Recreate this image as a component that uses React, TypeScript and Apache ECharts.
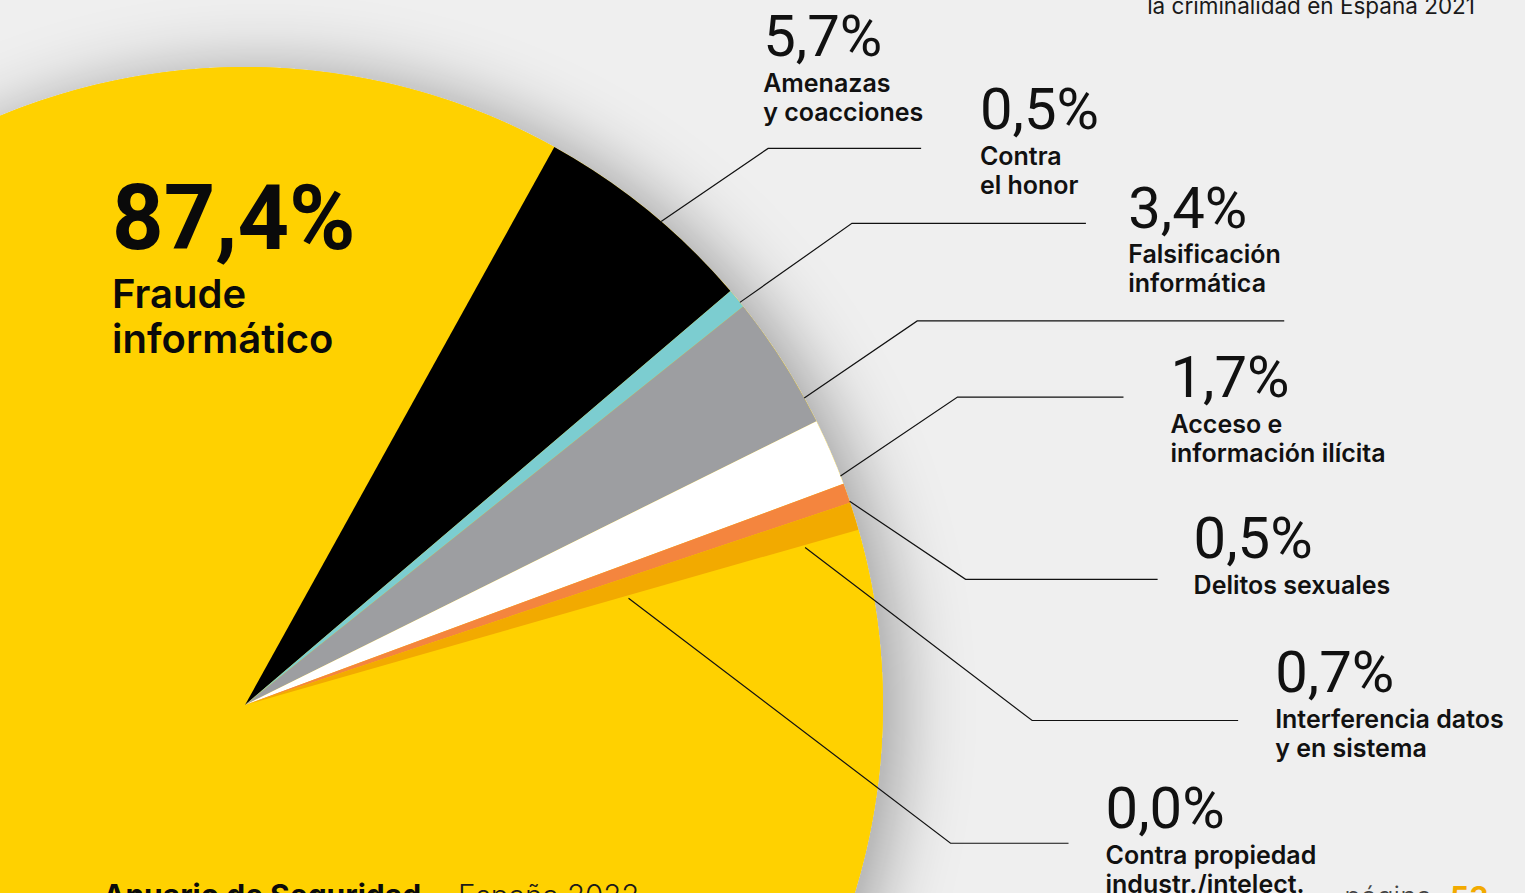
import React, { useEffect, useRef } from "react";
import * as echarts from "echarts";

// ---------- data ----------
const categories = [
  "Fraude\ninformático",
  "Amenazas\ny coacciones",
  "Contra\nel honor",
  "Falsificación\ninformática",
  "Acceso e\ninformación ilícita",
  "Delitos sexuales",
  "Interferencia datos\ny en sistema",
  "Contra propiedad\nindustr./intelect.",
];
const values = [87.4, 5.7, 0.5, 3.4, 1.7, 0.5, 0.7, 0.0];

// ---------- styles / layout ----------
const colors = ["#ffd100", "#000000", "#7ccdd0", "#9d9ea1", "#ffffff", "#f4853e", "#f2aa00", "#f2aa00"];
const FONT = "Inter, 'Noto Sans', sans-serif";
const NUM_FONT = "Roboto, Inter, sans-serif";
const CX = 245;
const CY = 705;
const R = 638;
const TOTAL = values.reduce((a, b) => a + b, 0);
// boundary between "Fraude" and "Amenazas" sits at 61° (counter-clockwise from 3 o'clock)
const START_ANGLE = 61 + (values[0] / TOTAL) * 360;

// leader line geometry relative to slice edge point (shift in degrees, elbow offset, horizontal length, text offset)
const LEADERS = [
  { shift: -1.44, frac: 1.0, elbow: [107, -73], len: 153, text: [-158, -133] },
  { shift: -0.43, frac: 1.0, elbow: [112, -79], len: 234, text: [-106, -135] },
  { shift: -3.76, frac: 1.0, elbow: [113, -77], len: 367, text: [-156, -134] },
  { shift: -2.31, frac: 1.0, elbow: [117, -79], len: 166, text: [47, -41] },
  { shift: -0.76, frac: 1.0, elbow: [116, 78], len: 192, text: [36, -62] },
  { shift: -1.51, frac: 0.912, elbow: [227, 173], len: 206, text: [37, -69] },
  { shift: -0.4, frac: 0.624, elbow: [322, 245], len: 118, text: [37, -56] },
];
const PCT_CAP_OFFSET = 11;
const BIG_LABEL_POS = [112, 165];

const fmt = (v: number) => v.toFixed(1).replace(".", ",") + "%";

function midAngleFallback(i: number): number {
  let acc = 0;
  for (let k = 0; k < i; k++) acc += values[k];
  const mid = acc + values[i] / 2;
  const deg = START_ANGLE - (mid / TOTAL) * 360;
  return (-deg * Math.PI) / 180; // screen angle
}

export default function App() {
  const ref = useRef<HTMLDivElement>(null);
  useEffect(() => {
    if (!ref.current) return;
    const chart = echarts.init(ref.current, undefined, { renderer: "svg" });
    const sliceData = categories.map((name, i) => ({
      name,
      value: values[i],
      itemStyle: { color: colors[i] },
    }));
    const labelData = categories.map((name, i) => ({
      name,
      value: values[i],
      itemStyle: { color: "rgba(0,0,0,0)" },
      labelLine: { show: i !== 0 },
    }));
    const pieBase = {
      type: "pie",
      silent: true,
      center: [CX, CY],
      radius: R,
      startAngle: START_ANGLE,
      clockwise: true,
      avoidLabelOverlap: false,
      emphasis: { disabled: true },
    };
    const option: any = {
      animation: false,
      backgroundColor: "#efefef",
      series: [
        {
          type: "pie",
          silent: true,
          z: 1,
          center: [CX, CY],
          radius: R,
          data: [{ value: 1, name: "" }],
          itemStyle: {
            color: "#ffd100",
            borderWidth: 0,
            shadowBlur: 70,
            shadowColor: "rgba(0,0,0,0.34)",
            shadowOffsetX: 16,
            shadowOffsetY: 4,
          },
          label: { show: false },
          labelLine: { show: false },
          emphasis: { disabled: true },
        },
        {
          ...pieBase,
          z: 2,
          itemStyle: { borderWidth: 0 },
          data: sliceData,
          label: { show: false },
          labelLine: { show: false },
        },
        {
          ...pieBase,
          z: 3,
          itemStyle: { borderWidth: 0, color: "rgba(0,0,0,0)" },
          data: labelData,
          label: {
            show: true,
            position: "outside",
            color: "#111111",
            fontFamily: FONT,
            formatter: (p: any) => {
              const lines = String(p.name).split("\n");
              if (p.dataIndex === 0) {
                return `{big|${fmt(p.value)}}\n` + lines.map((l) => `{bigName|${l}}`).join("\n");
              }
              return `{pct|${fmt(p.value)}}\n` + lines.map((l) => `{name|${l}}`).join("\n");
            },
            rich: {
              pct: { fontFamily: NUM_FONT, fontSize: 58, fontWeight: 400, lineHeight: 64, color: "#111111" },
              name: { fontFamily: FONT, fontSize: 25, fontWeight: 600, lineHeight: 29, color: "#111111" },
              big: { fontFamily: NUM_FONT, fontSize: 90, fontWeight: 700, lineHeight: 106, color: "#0a0a0a" },
              bigName: { fontFamily: FONT, fontSize: 40, fontWeight: 600, lineHeight: 45, color: "#0a0a0a" },
            },
          },
          labelLine: { show: true, lineStyle: { color: "#111111", width: 1.2 } },
          labelLayout: (params: any) => {
            const i = params.dataIndex;
            if (i === 0) {
              return { x: BIG_LABEL_POS[0], y: BIG_LABEL_POS[1], align: "left", verticalAlign: "top" };
            }
            const L = LEADERS[i - 1];
            const p0 = params.labelLinePoints && params.labelLinePoints[0];
            let a = p0 ? Math.atan2(p0[1] - CY, p0[0] - CX) : midAngleFallback(i);
            a -= (L.shift * Math.PI) / 180;
            const s = [CX + R * L.frac * Math.cos(a), CY + R * L.frac * Math.sin(a)];
            const e = [s[0] + L.elbow[0], s[1] + L.elbow[1]];
            const t = [e[0] + L.len, e[1]];
            return {
              x: t[0] + L.text[0],
              y: t[1] + L.text[1] - PCT_CAP_OFFSET,
              align: "left",
              verticalAlign: "top",
              labelLinePoints: [s, e, t],
            };
          },
        },
      ],
      graphic: [
        {
          type: "text",
          z: 100,
          x: 1475,
          y: 5,
          style: {
            text: "la criminalidad en España 2021",
            font: `400 22.5px ${FONT}`,
            fill: "#1a1a1a",
            textAlign: "right",
            textVerticalAlign: "middle",
          },
        },
        {
          type: "text",
          z: 100,
          x: 103,
          y: 895,
          style: {
            text: "Anuario de Seguridad",
            font: `700 30px ${FONT}`,
            fill: "#0a0a0a",
            textAlign: "left",
            textVerticalAlign: "middle",
          },
        },
        {
          type: "text",
          z: 100,
          x: 458,
          y: 895,
          style: {
            text: "España 2022",
            font: `300 29.5px ${FONT}`,
            fill: "#1a1a1a",
            textAlign: "left",
            textVerticalAlign: "middle",
          },
        },
        {
          type: "text",
          z: 100,
          x: 1432,
          y: 897,
          style: {
            text: "página",
            font: `300 28px ${FONT}`,
            fill: "#444444",
            textAlign: "right",
            textVerticalAlign: "middle",
          },
        },
        {
          type: "text",
          z: 100,
          x: 1450,
          y: 897,
          style: {
            text: "53",
            font: `700 30px ${FONT}`,
            fill: "#f2aa00",
            textAlign: "left",
            textVerticalAlign: "middle",
          },
        },
      ],
    };
    chart.setOption(option);
    return () => chart.dispose();
  }, []);
  return (
    <div
      ref={ref}
      style={{ position: "fixed", left: 0, top: 0, width: "1525px", height: "893px" }}
    />
  );
}
